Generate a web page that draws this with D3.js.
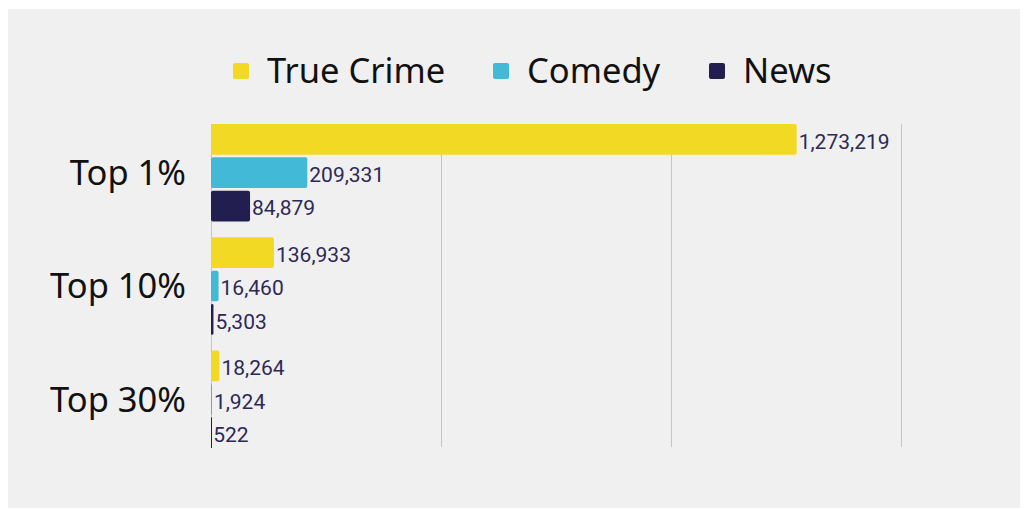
<!DOCTYPE html>
<html>
<head>
<meta charset="utf-8">
<script src="https://cdn.jsdelivr.net/npm/d3@7"></script>
<style>
  body { margin: 0; background: #fff; }
  svg { display: block; }
</style>
</head>
<body>
<svg id="chart" width="1025" height="510"></svg>
<script>
// Chart data
var categories = ['Top 1%', 'Top 10%', 'Top 30%'];
var seriesNames = ['True Crime', 'Comedy', 'News'];
var trueCrime = [1273219, 136933, 18264];
var comedy = [209331, 16460, 1924];
var news = [84879, 5303, 522];
var xTicks = [0, 500000, 1000000, 1500000];

var seriesColors = ['#f2d923', '#42b9d7', '#221e4f'];
var values = [trueCrime, comedy, news];

var svg = d3.select('#chart');

// grey panel behind everything
svg.append('rect')
  .attr('x', 8).attr('y', 9)
  .attr('width', 1012).attr('height', 499)
  .attr('fill', '#f0f0f0');

var x = d3.scaleLinear().domain([0, 1500000]).range([211, 901]);

var y = d3.scaleBand()
  .domain(categories)
  .range([116, 456])
  .paddingInner(0.14)
  .paddingOuter(0.07);

var ySub = d3.scaleBand()
  .domain(seriesNames)
  .range([0, y.bandwidth()])
  .paddingInner(0.08);

var plotTop = 124, plotBottom = 447;

// Gridlines (incl. the zero line)
svg.append('g')
  .selectAll('line')
  .data(xTicks)
  .join('line')
  .attr('x1', d => Math.round(x(d)) + 0.5)
  .attr('x2', d => Math.round(x(d)) + 0.5)
  .attr('y1', plotTop)
  .attr('y2', plotBottom)
  .attr('stroke', '#c4c4c4')
  .attr('stroke-width', 1);

// Bars, grouped by category
var groups = svg.append('g')
  .selectAll('g')
  .data(categories)
  .join('g')
  .attr('transform', d => 'translate(0,' + y(d) + ')');

groups.each(function(cat, ci) {
  var g = d3.select(this);
  seriesNames.forEach(function(s, si) {
    var v = values[si][ci];
    var w = x(v) - x(0);
    g.append('rect')
      .attr('x', x(0))
      .attr('y', ySub(s))
      .attr('width', Math.max(w, 1))
      .attr('height', ySub.bandwidth())
      .attr('rx', Math.min(2, w / 2))
      .attr('fill', seriesColors[si]);

    g.append('text')
      .attr('x', x(v) + 2)
      .attr('y', ySub(s) + ySub.bandwidth() / 2)
      .attr('dy', '0.45em')
      .attr('font-family', 'Roboto, sans-serif')
      .attr('font-size', 21)
      .attr('fill', '#2d2957')
      .text(d3.format(',')(v));
  });
});

// Category labels
svg.append('g')
  .selectAll('text')
  .data(categories)
  .join('text')
  .attr('x', 186)
  .attr('y', d => y(d) + y.bandwidth() / 2)
  .attr('dy', '0.36em')
  .attr('text-anchor', 'end')
  .attr('font-family', '"Noto Sans", sans-serif')
  .attr('font-size', 34.5)
  .attr('fill', '#111')
  .text(d => d);

// Legend
var legendX = [233, 493, 709];
var legend = svg.append('g')
  .selectAll('g')
  .data(seriesNames)
  .join('g')
  .attr('transform', (d, i) => 'translate(' + legendX[i] + ',63)');

legend.append('rect')
  .attr('width', 16).attr('height', 16).attr('rx', 2)
  .attr('fill', (d, i) => seriesColors[i]);

legend.append('text')
  .attr('x', 34)
  .attr('y', 20)
  .attr('font-family', '"Noto Sans", sans-serif')
  .attr('font-size', 34.5)
  .attr('fill', '#111')
  .text(d => d);
</script>
</body>
</html>
